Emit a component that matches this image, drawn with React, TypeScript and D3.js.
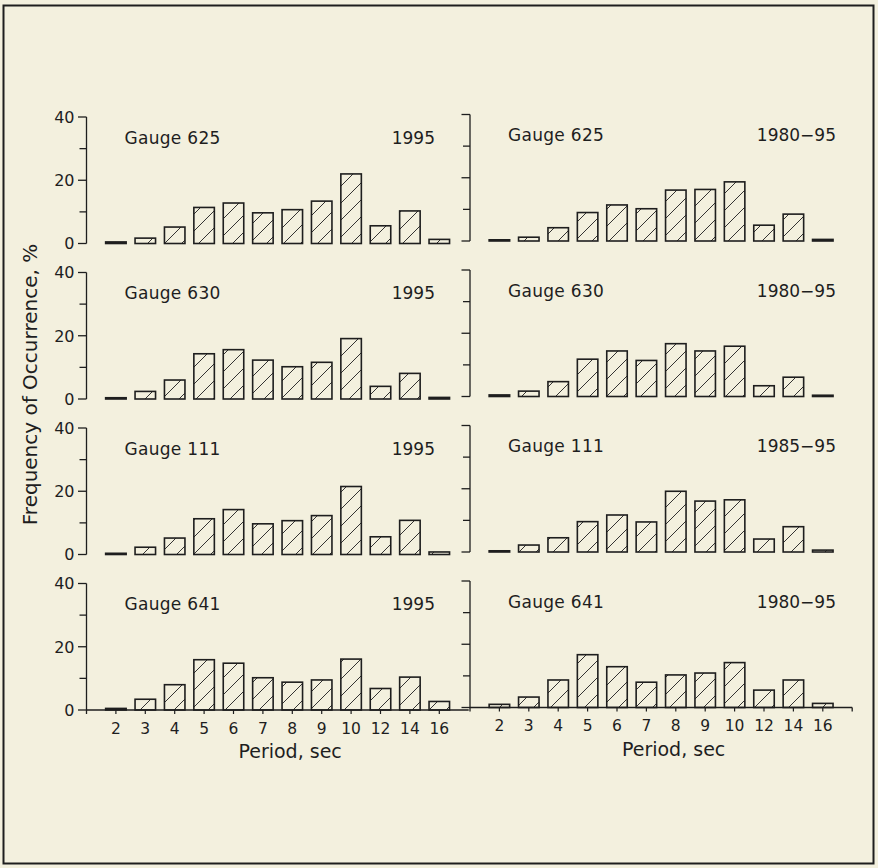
import React from "react";
import * as d3 from "d3";

const categories = ["2", "3", "4", "5", "6", "7", "8", "9", "10", "12", "14", "16"];
const yTicks = [0, 10, 20, 30, 40];
const yTickLabels = [0, 20, 40];

const gauge625_1995 = [0.5, 1.7, 5.2, 11.4, 12.8, 9.7, 10.7, 13.4, 22.0, 5.6, 10.3, 1.3];
const gauge625_8095 = [0.3, 1.2, 4.2, 9.0, 11.4, 10.2, 16.1, 16.3, 18.7, 5.0, 8.5, 0.5];
const gauge630_1995 = [0.4, 2.4, 6.0, 14.3, 15.6, 12.3, 10.2, 11.6, 19.1, 4.0, 8.1, 0.5];
const gauge630_8095 = [0.5, 1.7, 4.7, 11.8, 14.4, 11.4, 16.7, 14.4, 15.9, 3.4, 6.1, 0.4];
const gauge111_1995 = [0.2, 2.3, 5.2, 11.3, 14.2, 9.7, 10.7, 12.3, 21.5, 5.6, 10.8, 0.8];
const gauge111_8595 = [0.1, 2.2, 4.5, 9.6, 11.7, 9.5, 19.2, 16.1, 16.5, 4.1, 8.0, 0.6];
const gauge641_1995 = [0.5, 3.4, 8.0, 15.9, 14.8, 10.2, 8.8, 9.5, 16.1, 6.8, 10.4, 2.7];
const gauge641_8095 = [1.0, 3.3, 8.7, 16.7, 12.9, 8.0, 10.3, 10.9, 14.2, 5.5, 8.7, 1.3];

const gaugeNames = ["Gauge 625", "Gauge 630", "Gauge 111", "Gauge 641"];
const leftPeriods = ["1995", "1995", "1995", "1995"];
const rightPeriods = ["1980\u221295", "1980\u221295", "1985\u221295", "1980\u221295"];
const leftSeries = [gauge625_1995, gauge630_1995, gauge111_1995, gauge641_1995];
const rightSeries = [gauge625_8095, gauge630_8095, gauge111_8595, gauge641_8095];

const xTitle = "Period, sec";
const yTitle = "Frequency of Occurrence, %";

const W = 878;
const H = 868;
const BG = "#f3f0de";
const INK = "#1e1e1e";
const FONT = "'DejaVu Sans', sans-serif";

const STEP = 29.4;
const colX = [86.5, 470];
const colDy = [0, -2.5];
const rowZero = [243.5, 399, 554.5, 710];
const panelH = 126.5;
const barW = 20.5;
const labelEnd = [435, 836];

function Panel({ col, row, values, name, period }: any) {
  const x0 = colX[col];
  const y0 = rowZero[row] + colDy[col];
  const x = d3
    .scalePoint<string>()
    .domain(categories)
    .range([x0 + STEP, x0 + STEP * 12]);
  const y = d3.scaleLinear().domain([0, 40]).range([y0, y0 - panelH]);
  const isBottom = row === rowZero.length - 1;
  return (
    <g>
      <line x1={x0} x2={x0} y1={y(0)} y2={y(40)} stroke={INK} strokeWidth={1.3} />
      {yTicks.map((t) => (
        <line key={t} x1={x0 - (t % 20 === 0 ? 8.5 : 7)} x2={x0} y1={y(t)} y2={y(t)} stroke={INK} strokeWidth={1.3} />
      ))}
      {col === 0 &&
        yTickLabels.map((t) => (
          <text key={t} x={x0 - 12} y={y(t)} dy="0.36em" textAnchor="end" fontSize={16} fill={INK} fontFamily={FONT}>
            {t}
          </text>
        ))}
      {values.map((v: number, i: number) => {
        const cx = x(categories[i])!;
        const top = y(v);
        const h = Math.max(y(0) - top, 1.2);
        return (
          <rect key={i} x={cx - barW / 2} y={y(0) - h} width={barW} height={h} fill="url(#hatch)" stroke={INK} strokeWidth={1.6} />
        );
      })}
      <text x={x0 + 38} y={y(40) + 26.5} fontSize={17} fill={INK} fontFamily={FONT} letterSpacing={0.3}>
        {name}
      </text>
      <text x={labelEnd[col]} y={y(40) + 26.5} fontSize={17} textAnchor="end" fill={INK} fontFamily={FONT}>
        {period}
      </text>
      {isBottom && (
        <g>
          <line x1={x0} x2={x0 + STEP * 13} y1={y(0)} y2={y(0)} stroke={INK} strokeWidth={1.3} />
          <line x1={x0} x2={x0} y1={y(0)} y2={y(0) + 4} stroke={INK} strokeWidth={1.3} />
          {col === 1 && (
            <line x1={x0 + STEP * 13} x2={x0 + STEP * 13} y1={y(0)} y2={y(0) + 4} stroke={INK} strokeWidth={1.3} />
          )}
          {categories.map((c) => (
            <g key={c}>
              <line x1={x(c)!} x2={x(c)!} y1={y(0)} y2={y(0) + 4} stroke={INK} strokeWidth={1.2} />
              <text x={x(c)!} y={y(0) + 23.5} textAnchor="middle" fontSize={15.5} fill={INK} fontFamily={FONT}>
                {c}
              </text>
            </g>
          ))}
          <text x={x0 + STEP * 6.5 + 12.5} y={y(0) + 48} textAnchor="middle" fontSize={19} fill={INK} fontFamily={FONT}>
            {xTitle}
          </text>
        </g>
      )}
    </g>
  );
}

export default function App() {
  return (
    <svg width={W} height={H} style={{ position: "absolute", left: 0, top: 0, background: BG }}>
      <defs>
        <pattern id="hatch" patternUnits="userSpaceOnUse" width={17} height={17}>
          <rect width={17} height={17} fill={BG} />
          <path d="M0,17 L17,0 M-4,4 L4,-4 M13,21 L21,13" stroke={INK} strokeWidth={0.9} />
        </pattern>
      </defs>
      <rect x={0} y={0} width={W} height={H} fill={BG} />
      <rect x={3.5} y={5.5} width={870} height={858} fill="none" stroke={INK} strokeWidth={2} />
      <text transform={`translate(37,384.5) rotate(-90)`} textAnchor="middle" fontSize={20} fill={INK} fontFamily={FONT}>
        {yTitle}
      </text>
      {rowZero.map((_, r) => (
        <g key={r}>
          <Panel col={0} row={r} values={leftSeries[r]} name={gaugeNames[r]} period={leftPeriods[r]} />
          <Panel col={1} row={r} values={rightSeries[r]} name={gaugeNames[r]} period={rightPeriods[r]} />
        </g>
      ))}
    </svg>
  );
}
